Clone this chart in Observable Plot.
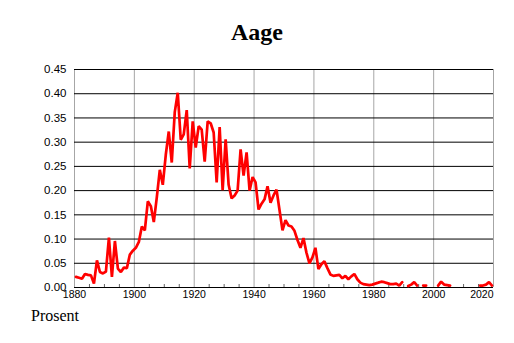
<!DOCTYPE html>
<html>
<head>
<meta charset="utf-8">
<script src="https://cdn.jsdelivr.net/npm/d3@7"></script>
<script src="https://cdn.jsdelivr.net/npm/@observablehq/plot@0.6"></script>
<style>
  html, body { margin: 0; padding: 0; background: #fff; }
  #wrap { position: relative; width: 514px; height: 343px; overflow: hidden; }
  #title { position: absolute; left: 0; width: 514px; top: 18px; text-align: center;
           font-family: "Liberation Serif", "Times New Roman", serif; font-weight: bold; font-size: 24px; line-height: 28px; color: #000; }
  #caption { position: absolute; left: 31px; top: 306px;
           font-family: "Liberation Serif", "Times New Roman", serif; font-size: 16px; line-height: 20px; color: #000; }
  #chart { position: absolute; left: 0; top: 0; }
</style>
</head>
<body>
<div id="wrap">
  <div id="chart"></div>
  <div id="title">Aage</div>
  <div id="caption">Prosent</div>
</div>
<script>
const years = [
  1880,1881,1882,1883,1884,1885,1886,1887,1888,1889,
  1890,1891,1892,1893,1894,1895,1896,1897,1898,1899,
  1900,1901,1902,1903,1904,1905,1906,1907,1908,1909,
  1910,1911,1912,1913,1914,1915,1916,1917,1918,1919,
  1920,1921,1922,1923,1924,1925,1926,1927,1928,1929,
  1930,1931,1932,1933,1934,1935,1936,1937,1938,1939,
  1940,1941,1942,1943,1944,1945,1946,1947,1948,1949,
  1950,1951,1952,1953,1954,1955,1956,1957,1958,1959,
  1960,1961,1962,1963,1964,1965,1966,1967,1968,1969,
  1970,1971,1972,1973,1974,1975,1976,1977,1978,1979,
  1980,1981,1982,1983,1984,1985,1986,1987,1988,1989,
  1990,1991,1992,1993,1994,1995,1996,1997,1998,1999,
  2000,2001,2002,2003,2004,2005,2006,2007,2008,2009,
  2010,2011,2012,2013,2014,2015,2016,2017,2018,2019
];
const percent = [
  0.022,0.020,0.018,0.028,0.026,0.025,0.008,0.056,0.032,0.029,
  0.033,0.103,0.022,0.096,0.039,0.032,0.041,0.040,0.068,0.076,
  0.082,0.094,0.126,0.118,0.178,0.168,0.135,0.186,0.243,0.212,
  0.274,0.322,0.258,0.362,0.402,0.305,0.316,0.366,0.246,0.343,
  0.289,0.333,0.326,0.260,0.343,0.339,0.320,0.217,0.331,0.201,
  0.306,0.212,0.184,0.190,0.200,0.285,0.231,0.279,0.200,0.228,
  0.217,0.161,0.173,0.182,0.209,0.175,0.190,0.202,0.160,0.118,
  0.139,0.128,0.126,0.117,0.098,0.082,0.102,0.072,0.050,0.062,
  0.082,0.038,0.048,0.054,0.040,0.027,0.024,0.025,0.026,0.019,
  0.024,0.017,0.023,0.028,0.017,0.010,0.007,0.006,0.005,0.006,
  0.008,0.010,0.012,0.011,0.009,0.007,0.007,0.008,0.004,0.011,
  null,0.003,0.006,0.011,0.004,null,0.004,0.004,null,null,
  null,0.004,0.012,0.006,0.005,0.004,null,null,null,null,
  null,null,null,null,null,0.004,0.004,0.006,0.011,0.004
];
const yTicks = [0,0.05,0.10,0.15,0.20,0.25,0.30,0.35,0.40,0.45];
const xLabelYears = [1880,1900,1920,1940,1960,1980,2000];
const xLastLabel = [2020];
const xGridYears = [1880,1900,1920,1940,1960,1980,2000,2020];
const xMinorYears = [1885,1890,1895,1905,1910,1915,1925,1930,1935,1945,1950,1955,1965,1970,1975,1985,1990,1995,2005,2010,2015];

const data = years.map((year, i) => ({year, value: percent[i]}));

const chart = Plot.plot({
  width: 514,
  height: 343,
  marginTop: 69,
  marginBottom: 56,
  marginLeft: 74,
  marginRight: 21,
  style: {fontFamily: "'Liberation Sans', Arial, sans-serif", fontSize: "11px", color: "#000", background: "transparent"},
  x: {domain: [1880, 2020], axis: null},
  y: {domain: [0, 0.45], axis: null},
  marks: [
    Plot.ruleX(xGridYears, {stroke: "#a6a6a6", strokeWidth: 1}),
    Plot.ruleY(yTicks, {stroke: "#000", strokeWidth: 1}),
    Plot.axisX(xMinorYears, {anchor: "bottom", tickSize: 3, dy: -3, tickFormat: () => "", stroke: "#666", label: null}),
    Plot.line(data, {x: d => d.year + 0.5, y: "value", stroke: "#ff0000", strokeWidth: 2.7, strokeLinejoin: "miter"}),
    Plot.axisY(yTicks, {anchor: "left", tickSize: 0, tickPadding: 8, tickFormat: d3.format(".2f"), fontSize: 11.5, label: null}),
    Plot.axisX(xLabelYears, {anchor: "bottom", tickSize: 0, tickPadding: 3, tickFormat: d => String(d), fontSize: 10.5, label: null}),
    Plot.axisX(xLastLabel, {anchor: "bottom", tickSize: 0, tickPadding: 3, tickFormat: d => String(d), textAnchor: "end", fontSize: 10.5, label: null})
  ]
});
document.getElementById("chart").appendChild(chart);
</script>
</body>
</html>
